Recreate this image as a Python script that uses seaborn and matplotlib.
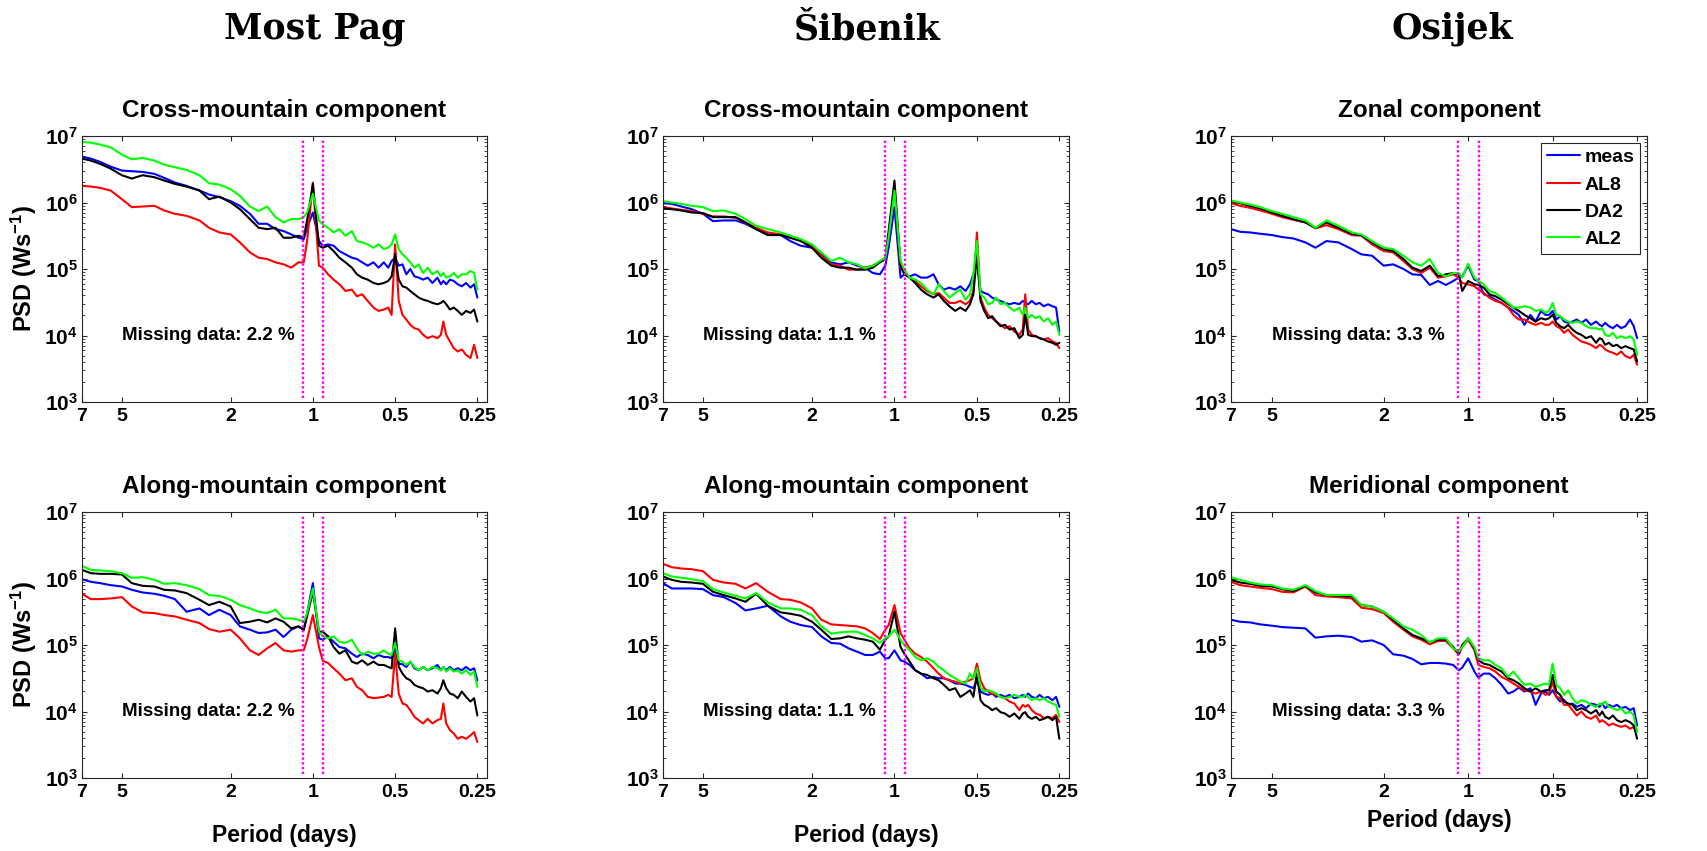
import numpy as np
import pandas as pd
import matplotlib
matplotlib.use("Agg")
import matplotlib.pyplot as plt
import seaborn as sns
from matplotlib.ticker import FixedLocator, FixedFormatter, LogLocator, NullLocator, NullFormatter

# ---------------- data ----------------
period_days = [7, 6.5, 6, 5.5, 5, 4.6, 4.2, 3.8, 3.5, 3.2,
               2.9, 2.6, 2.4, 2.2, 2.0, 1.85, 1.7, 1.58, 1.47, 1.37,
               1.28, 1.2, 1.13, 1.08, 1.05, 1.0, 0.95, 0.92, 0.88, 0.84,
               0.8, 0.76, 0.72, 0.69, 0.66, 0.63, 0.6, 0.575, 0.55, 0.53,
               0.515, 0.5, 0.485, 0.47, 0.455, 0.44, 0.425, 0.41, 0.395, 0.38,
               0.365, 0.35, 0.34, 0.333, 0.325, 0.315, 0.305, 0.295, 0.285, 0.275,
               0.265, 0.257, 0.25]

series_names = ["meas", "AL8", "DA2", "AL2"]
series_colors = ["#0000ff", "#ff0000", "#000000", "#00ff00"]

station_titles = ["Most Pag", "Šibenik", "Osijek"]
row_titles = [["Cross-mountain component", "Cross-mountain component", "Zonal component"],
              ["Along-mountain component", "Along-mountain component", "Meridional component"]]
missing_data_pct = ["2.2", "1.1", "3.3"]
xtick_values = [7, 5, 2, 1, 0.5, 0.25]
xtick_labels = ["7", "5", "2", "1", "0.5", "0.25"]
ytick_exponents = [3, 4, 5, 6, 7]
diurnal_band_days = [1.083, 0.917]   # 26 h and 22 h

# log10(PSD) values
pag_cross_meas = [6.69,6.66,6.61,6.54,6.48,6.47,6.46,6.43,6.37,6.30,
                  6.25,6.18,6.12,6.08,6.02,5.95,5.83,5.68,5.68,5.60,
                  5.57,5.52,5.47,5.45,5.62,5.85,5.42,5.35,5.37,5.35,
                  5.27,5.22,5.17,5.15,5.10,5.05,5.10,5.02,5.10,5.02,
                  5.12,5.17,5.05,5.07,4.92,5.00,4.89,4.87,4.84,4.87,
                  4.79,4.87,4.77,4.82,4.77,4.84,4.82,4.77,4.74,4.79,
                  4.72,4.77,4.57]
pag_cross_al8 = [6.25,6.24,6.22,6.18,6.05,5.93,5.94,5.95,5.88,5.83,
                 5.80,5.73,5.62,5.55,5.52,5.40,5.25,5.17,5.15,5.10,
                 5.07,5.02,5.10,5.10,5.42,6.30,5.05,5.02,4.92,4.84,
                 4.77,4.67,4.69,4.59,4.62,4.52,4.42,4.37,4.39,4.42,
                 4.31,5.37,4.52,4.31,4.24,4.16,4.11,4.09,4.01,3.96,
                 3.99,3.96,4.01,4.21,4.01,3.91,3.81,3.76,3.79,3.71,
                 3.66,3.86,3.66]
pag_cross_da2 = [6.66,6.63,6.58,6.51,6.41,6.36,6.41,6.38,6.33,6.28,
                 6.24,6.18,6.05,6.09,6.00,5.90,5.75,5.62,5.60,5.62,
                 5.47,5.47,5.50,5.47,5.73,6.28,5.35,5.32,5.35,5.27,
                 5.17,5.10,5.02,4.92,4.87,4.84,4.79,4.77,4.79,4.82,
                 4.89,5.22,4.84,4.74,4.72,4.67,4.62,4.57,4.54,4.52,
                 4.49,4.47,4.49,4.52,4.47,4.39,4.42,4.37,4.31,4.37,
                 4.34,4.39,4.21]
pag_cross_al2 = [6.91,6.90,6.87,6.83,6.72,6.65,6.67,6.63,6.57,6.53,
                 6.49,6.41,6.29,6.27,6.20,6.10,5.94,5.87,5.94,5.78,
                 5.70,5.75,5.75,5.78,5.85,6.13,5.73,5.67,5.62,5.55,
                 5.60,5.50,5.57,5.42,5.40,5.37,5.32,5.37,5.30,5.32,
                 5.37,5.52,5.30,5.22,5.17,5.10,5.02,5.07,4.94,5.02,
                 4.92,4.97,4.89,4.94,4.87,4.89,4.94,4.87,4.92,4.92,
                 4.97,4.94,4.69]

sib_cross_meas = [5.99,5.98,5.94,5.90,5.83,5.72,5.73,5.73,5.68,5.60,
                  5.52,5.51,5.42,5.35,5.32,5.22,5.10,5.07,5.10,5.05,
                  5.02,4.94,4.92,5.05,5.32,5.93,4.87,4.92,4.89,4.92,
                  4.87,4.87,4.92,4.77,4.69,4.72,4.69,4.74,4.67,4.77,
                  4.92,5.12,4.67,4.64,4.62,4.57,4.54,4.52,4.49,4.47,
                  4.49,4.47,4.52,4.49,4.47,4.52,4.47,4.49,4.44,4.47,
                  4.44,4.42,4.06]
sib_cross_al8 = [5.93,5.91,5.89,5.87,5.83,5.79,5.79,5.77,5.70,5.62,
                 5.55,5.52,5.47,5.43,5.35,5.20,5.07,5.05,4.99,4.99,
                 5.02,5.05,5.10,5.15,5.52,6.23,5.02,4.94,4.87,4.82,
                 4.74,4.67,4.62,4.64,4.57,4.49,4.49,4.52,4.47,4.52,
                 4.67,5.55,4.57,4.42,4.31,4.26,4.21,4.16,4.11,4.14,
                 4.06,4.01,4.09,4.62,4.09,4.01,3.99,3.96,3.94,3.96,
                 3.91,3.89,3.81]
sib_cross_da2 = [5.91,5.90,5.88,5.85,5.84,5.78,5.78,5.78,5.70,5.60,
                 5.51,5.51,5.47,5.42,5.32,5.17,5.05,5.02,5.02,4.99,
                 4.99,5.02,5.10,5.15,5.57,6.33,5.05,4.92,4.87,4.79,
                 4.69,4.62,4.57,4.62,4.52,4.44,4.37,4.42,4.37,4.47,
                 4.62,5.22,4.52,4.37,4.26,4.29,4.21,4.14,4.16,4.09,
                 4.11,3.96,4.01,4.31,4.01,3.99,3.99,3.96,3.94,3.91,
                 3.89,3.86,3.89]
sib_cross_al2 = [6.02,6.00,5.98,5.95,5.93,5.87,5.88,5.83,5.75,5.65,
                 5.60,5.55,5.50,5.45,5.37,5.25,5.12,5.17,5.10,5.07,
                 5.01,5.05,5.12,5.17,5.47,6.18,5.12,4.99,4.87,4.84,
                 4.79,4.69,4.62,4.77,4.67,4.57,4.64,4.69,4.54,4.62,
                 4.92,5.42,4.62,4.57,4.47,4.49,4.57,4.47,4.49,4.42,
                 4.37,4.42,4.31,4.42,4.26,4.31,4.26,4.29,4.21,4.26,
                 4.16,4.21,4.01]

osi_zonal_meas = [5.60,5.56,5.55,5.53,5.51,5.48,5.46,5.40,5.32,5.42,
                  5.40,5.30,5.22,5.20,5.05,5.07,5.00,4.92,4.91,4.76,
                  4.82,4.76,4.82,4.87,4.89,5.05,4.84,4.82,4.62,4.59,
                  4.54,4.49,4.42,4.37,4.31,4.16,4.31,4.21,4.37,4.31,
                  4.31,4.37,4.24,4.29,4.21,4.19,4.21,4.24,4.19,4.24,
                  4.16,4.21,4.16,4.14,4.19,4.14,4.11,4.16,4.11,4.14,
                  4.24,4.14,3.96]
osi_zonal_al8 = [5.99,5.95,5.92,5.88,5.83,5.78,5.74,5.70,5.61,5.66,
                 5.60,5.51,5.50,5.37,5.27,5.25,5.12,5.00,4.94,5.02,
                 4.87,4.89,4.92,4.87,4.79,4.77,4.74,4.69,4.64,4.57,
                 4.52,4.49,4.42,4.31,4.24,4.24,4.19,4.16,4.19,4.16,
                 4.16,4.21,4.14,4.11,4.04,4.09,4.01,3.96,3.91,3.89,
                 3.86,3.81,3.86,3.84,3.79,3.76,3.74,3.71,3.76,3.69,
                 3.66,3.71,3.56]
osi_zonal_da2 = [6.02,5.99,5.95,5.91,5.85,5.80,5.75,5.70,5.62,5.70,
                 5.62,5.53,5.51,5.40,5.30,5.27,5.15,5.02,4.97,5.05,
                 4.89,4.92,4.94,4.92,4.67,4.82,4.77,4.76,4.72,4.62,
                 4.59,4.54,4.47,4.42,4.37,4.31,4.26,4.21,4.26,4.24,
                 4.26,4.31,4.19,4.14,4.11,4.16,4.09,4.04,4.01,3.96,
                 3.99,3.89,3.96,3.94,3.86,3.89,3.84,3.86,3.81,3.84,
                 3.81,3.79,3.61]
osi_zonal_al2 = [6.03,6.00,5.97,5.93,5.87,5.83,5.78,5.73,5.62,5.73,
                 5.65,5.55,5.52,5.42,5.32,5.30,5.20,5.10,5.05,5.15,
                 4.94,4.89,4.94,4.94,4.87,5.08,4.87,4.82,4.77,4.67,
                 4.64,4.57,4.49,4.42,4.42,4.44,4.42,4.37,4.39,4.34,
                 4.37,4.49,4.31,4.29,4.24,4.21,4.19,4.21,4.19,4.14,
                 4.11,4.11,4.09,4.11,4.01,3.99,4.04,3.96,3.99,3.96,
                 3.99,3.94,3.71]

pag_along_meas = [5.99,5.95,5.93,5.90,5.88,5.83,5.79,5.77,5.74,5.69,
                  5.50,5.55,5.45,5.53,5.45,5.28,5.23,5.18,5.19,5.23,
                  5.12,5.23,5.28,5.23,5.48,5.93,5.10,5.08,5.13,5.05,
                  4.97,4.95,4.87,4.82,4.87,4.85,4.80,4.85,4.82,4.82,
                  4.80,4.95,4.72,4.71,4.67,4.75,4.65,4.62,4.67,4.62,
                  4.65,4.70,4.62,4.67,4.62,4.67,4.62,4.65,4.62,4.67,
                  4.62,4.65,4.47]
pag_along_al8 = [5.77,5.69,5.69,5.70,5.72,5.58,5.49,5.48,5.45,5.43,
                 5.38,5.33,5.24,5.20,5.23,5.10,4.92,4.85,4.95,5.03,
                 4.92,4.90,4.92,4.92,5.08,5.45,4.97,4.76,4.73,4.65,
                 4.57,4.47,4.50,4.37,4.32,4.22,4.20,4.21,4.22,4.25,
                 4.22,4.87,4.27,4.12,4.10,4.02,3.92,3.87,3.82,3.89,
                 3.82,3.87,3.89,4.12,3.82,3.72,3.67,3.59,3.62,3.59,
                 3.64,3.69,3.54]
pag_along_da2 = [6.13,6.08,6.07,6.07,6.06,5.93,5.89,5.88,5.83,5.82,
                 5.78,5.68,5.60,5.65,5.58,5.33,5.35,5.38,5.34,5.40,
                 5.35,5.25,5.28,5.23,5.43,5.80,5.20,5.20,5.13,4.97,
                 4.87,4.92,4.75,4.72,4.77,4.70,4.75,4.70,4.70,4.67,
                 4.65,5.25,4.67,4.57,4.50,4.47,4.40,4.37,4.35,4.30,
                 4.32,4.27,4.35,4.47,4.35,4.27,4.25,4.20,4.30,4.22,
                 4.15,4.20,3.94]
pag_along_al2 = [6.19,6.13,6.12,6.11,6.08,6.01,6.02,5.98,5.92,5.93,
                 5.90,5.84,5.75,5.74,5.68,5.60,5.55,5.50,5.48,5.53,
                 5.40,5.40,5.38,5.35,5.48,5.85,5.20,5.13,5.10,5.13,
                 5.05,5.03,5.08,4.95,4.85,4.90,4.87,4.87,4.92,4.87,
                 4.85,5.03,4.77,4.75,4.70,4.75,4.67,4.62,4.67,4.62,
                 4.67,4.65,4.62,4.67,4.60,4.65,4.60,4.62,4.57,4.62,
                 4.55,4.60,4.37]

sib_along_meas = [5.93,5.85,5.85,5.85,5.84,5.75,5.72,5.63,5.52,5.55,
                  5.59,5.43,5.35,5.30,5.27,5.13,5.03,5.02,4.95,4.90,
                  4.85,4.85,4.90,4.80,4.80,4.92,4.77,4.75,4.70,4.62,
                  4.57,4.50,4.52,4.50,4.50,4.47,4.42,4.42,4.40,4.37,
                  4.35,4.47,4.30,4.27,4.25,4.27,4.22,4.25,4.22,4.25,
                  4.20,4.22,4.25,4.22,4.27,4.22,4.20,4.25,4.20,4.22,
                  4.17,4.22,4.07]
sib_along_al8 = [6.22,6.17,6.15,6.14,6.11,5.98,5.94,5.92,5.85,5.93,
                 5.80,5.69,5.68,5.64,5.55,5.38,5.31,5.30,5.29,5.28,
                 5.25,5.18,5.09,5.23,5.30,5.60,5.18,5.08,4.95,4.87,
                 4.82,4.75,4.65,4.57,4.50,4.47,4.45,4.42,4.45,4.47,
                 4.50,4.72,4.47,4.35,4.30,4.27,4.25,4.22,4.20,4.15,
                 4.12,4.02,4.10,4.07,4.10,4.02,3.97,3.95,3.90,3.92,
                 3.90,3.95,3.84]
sib_along_da2 = [6.03,5.98,5.95,5.94,5.92,5.80,5.75,5.70,5.65,5.77,
                 5.59,5.49,5.47,5.44,5.35,5.23,5.09,5.10,5.13,5.10,
                 5.08,5.05,4.93,5.08,5.13,5.50,4.97,4.87,4.75,4.62,
                 4.57,4.55,4.50,4.47,4.40,4.32,4.35,4.22,4.27,4.32,
                 4.22,4.57,4.17,4.10,4.07,4.02,4.05,3.99,3.97,3.92,
                 3.97,3.89,3.97,3.99,3.92,3.89,3.92,3.87,3.89,3.92,
                 3.87,3.92,3.59]
sib_along_al2 = [6.08,6.03,6.01,5.99,5.96,5.84,5.79,5.74,5.70,5.78,
                 5.64,5.55,5.55,5.53,5.45,5.28,5.17,5.19,5.20,5.20,
                 5.15,5.10,5.03,5.10,5.13,5.23,5.08,5.00,4.92,4.82,
                 4.77,4.80,4.75,4.67,4.62,4.55,4.50,4.45,4.42,4.57,
                 4.50,4.65,4.37,4.30,4.32,4.30,4.27,4.22,4.20,4.22,
                 4.25,4.22,4.22,4.25,4.22,4.17,4.20,4.17,4.20,4.15,
                 4.12,4.10,3.92]

osi_merid_meas = [5.38,5.35,5.34,5.31,5.29,5.27,5.26,5.25,5.11,5.13,
                  5.14,5.12,5.05,5.07,5.00,4.86,4.84,4.79,4.71,4.73,
                  4.73,4.72,4.70,4.62,4.66,4.80,4.60,4.51,4.57,4.57,
                  4.50,4.40,4.27,4.30,4.36,4.30,4.35,4.10,4.27,4.30,
                  4.25,4.32,4.22,4.15,4.17,4.10,4.12,4.07,4.10,4.05,
                  4.12,4.10,4.07,4.12,4.05,4.10,4.07,4.10,4.05,4.07,
                  4.02,4.05,3.79]
osi_merid_al8 = [5.95,5.90,5.88,5.86,5.84,5.80,5.79,5.88,5.75,5.73,
                 5.72,5.70,5.56,5.54,5.48,5.35,5.23,5.13,5.08,5.01,
                 5.06,5.06,4.95,4.86,4.97,5.08,4.92,4.70,4.67,4.65,
                 4.60,4.52,4.47,4.42,4.37,4.32,4.30,4.27,4.30,4.25,
                 4.27,4.45,4.22,4.20,4.10,4.10,4.02,3.94,4.00,3.92,
                 3.89,3.94,3.84,3.87,3.84,3.79,3.82,3.79,3.77,3.79,
                 3.74,3.77,3.69]
osi_merid_da2 = [5.98,5.94,5.92,5.89,5.88,5.84,5.81,5.89,5.79,5.75,
                 5.74,5.73,5.60,5.58,5.50,5.38,5.25,5.15,5.10,5.04,
                 5.08,5.08,4.97,4.87,5.00,5.10,4.95,4.77,4.72,4.70,
                 4.65,4.60,4.50,4.47,4.42,4.35,4.30,4.35,4.30,4.32,
                 4.32,4.55,4.30,4.25,4.15,4.12,4.10,4.02,4.05,4.02,
                 3.97,4.02,3.94,4.00,3.92,3.89,3.94,3.87,3.84,3.87,
                 3.84,3.79,3.59]
osi_merid_al2 = [6.02,5.98,5.94,5.91,5.90,5.85,5.83,5.90,5.81,5.75,
                 5.75,5.75,5.60,5.58,5.50,5.40,5.28,5.23,5.15,5.04,
                 5.10,5.10,4.95,4.90,4.97,5.10,4.97,4.80,4.77,4.77,
                 4.70,4.65,4.52,4.60,4.50,4.40,4.42,4.37,4.40,4.42,
                 4.40,4.72,4.40,4.35,4.25,4.32,4.20,4.12,4.17,4.15,
                 4.10,4.07,4.12,4.10,4.15,4.07,4.05,4.02,4.05,3.97,
                 4.00,3.94,3.69]

panel_series = [
    [[pag_cross_meas, pag_cross_al8, pag_cross_da2, pag_cross_al2],
     [sib_cross_meas, sib_cross_al8, sib_cross_da2, sib_cross_al2],
     [osi_zonal_meas, osi_zonal_al8, osi_zonal_da2, osi_zonal_al2]],
    [[pag_along_meas, pag_along_al8, pag_along_da2, pag_along_al2],
     [sib_along_meas, sib_along_al8, sib_along_da2, sib_along_al2],
     [osi_merid_meas, osi_merid_al8, osi_merid_da2, osi_merid_al2]],
]

# ---------------- style ----------------
sns.set_style("ticks")
plt.rcParams["font.family"] = ["Liberation Sans", "DejaVu Sans"]
plt.rcParams["font.weight"] = "bold"
plt.rcParams["text.color"] = "black"
plt.rcParams["axes.labelcolor"] = "black"
plt.rcParams["axes.titlecolor"] = "black"
plt.rcParams["mathtext.fontset"] = "custom"
plt.rcParams["mathtext.rm"] = "Liberation Sans:bold"
plt.rcParams["mathtext.bf"] = "Liberation Sans:bold"
plt.rcParams["mathtext.it"] = "Liberation Sans:bold"
plt.rcParams["axes.linewidth"] = 0.8
plt.rcParams["axes.edgecolor"] = "#262626"

W, H = 1708, 851
fig = plt.figure(figsize=(W / 100, H / 100), dpi=100)

col_x = [(82, 405), (663, 406), (1231, 416)]
row_y = [(136, 266), (512, 266)]
xlabel_y = [-0.172, -0.172, -0.118]
title_x = [315, 867, 1452]

ylabels = [r"$\mathbf{10^{%d}}$" % e for e in ytick_exponents]

for r in range(2):
    for c in range(3):
        x0, w = col_x[c]
        y0, h = row_y[r]
        ax = fig.add_axes([x0 / W, 1 - (y0 + h) / H, w / W, h / H])
        recs = []
        for name, vals in zip(series_names, panel_series[r][c]):
            for p, v in zip(period_days, vals):
                recs.append((p, 10 ** v, name))
        df = pd.DataFrame(recs, columns=["period", "psd", "model"])
        sns.lineplot(data=df, x="period", y="psd", hue="model", hue_order=series_names,
                     palette=series_colors, estimator=None, sort=False, lw=1.5,
                     legend=False, ax=ax)
        line_handles = list(ax.lines[:4])
        for b in diurnal_band_days:
            ax.axvline(b, ymin=0.015, ymax=0.985, color="#ff00ff", lw=1.7,
                       ls=(0, (1.0, 1.0)))
        ax.set_xscale("log")
        ax.set_yscale("log")
        ax.set_xlim(7, 0.2305)
        ax.set_ylim(1e3, 1e7)
        ax.xaxis.set_major_locator(FixedLocator(xtick_values))
        ax.xaxis.set_major_formatter(FixedFormatter(xtick_labels))
        ax.xaxis.set_minor_locator(NullLocator())
        ax.yaxis.set_major_locator(FixedLocator([10.0 ** e for e in ytick_exponents]))
        ax.yaxis.set_major_formatter(FixedFormatter(ylabels))
        ax.yaxis.set_minor_locator(LogLocator(base=10, subs=np.arange(2, 10)))
        ax.yaxis.set_minor_formatter(NullFormatter())
        ax.tick_params(which="both", direction="in", top=True, right=True,
                       labelsize=14, colors="#262626", labelcolor="black")
        ax.tick_params(axis="y", labelsize=15)
        ax.tick_params(which="major", length=3.5, width=0.8)
        ax.tick_params(which="minor", length=2, width=0.6)
        ax.tick_params(axis="x", pad=4)
        ax.tick_params(axis="y", pad=3)
        ax.set_title(row_titles[r][c], fontsize=17.5, fontweight="bold", pad=14,
                     color="black")
        ax.text(5, 1e4, "Missing data: %s %%" % missing_data_pct[c], fontsize=13.5,
                fontweight="bold", ha="left", va="center", color="black")
        if c == 0:
            ax.set_ylabel(r"PSD (Ws$^{\mathbf{-1}}$)", fontsize=17, fontweight="bold")
            ax.yaxis.set_label_coords(-0.105, 0.5)
        else:
            ax.set_ylabel("")
        if r == 1:
            ax.set_xlabel("Period (days)", fontsize=16.5, fontweight="bold")
            ax.xaxis.set_label_coords(0.5, xlabel_y[c])
        else:
            ax.set_xlabel("")
        for s in ax.spines.values():
            s.set_visible(True)
        if r == 0 and c == 2:
            leg = ax.legend(line_handles, series_names, loc="upper right", fontsize=14,
                            frameon=True, fancybox=False, framealpha=1,
                            edgecolor="#262626", handlelength=1.7, handletextpad=0.25,
                            labelspacing=0.5, borderpad=0.3, borderaxespad=0.35)
            leg.get_frame().set_linewidth(0.8)
            for t in leg.get_texts():
                t.set_color("black")

for cx, t in zip(title_x, station_titles):
    fig.text(cx / W, 1 - 39 / H, t, ha="center", va="baseline", fontsize=25,
             fontweight="bold", family=["DejaVu Serif"], color="black")

fig.savefig("out.png", dpi=100)
